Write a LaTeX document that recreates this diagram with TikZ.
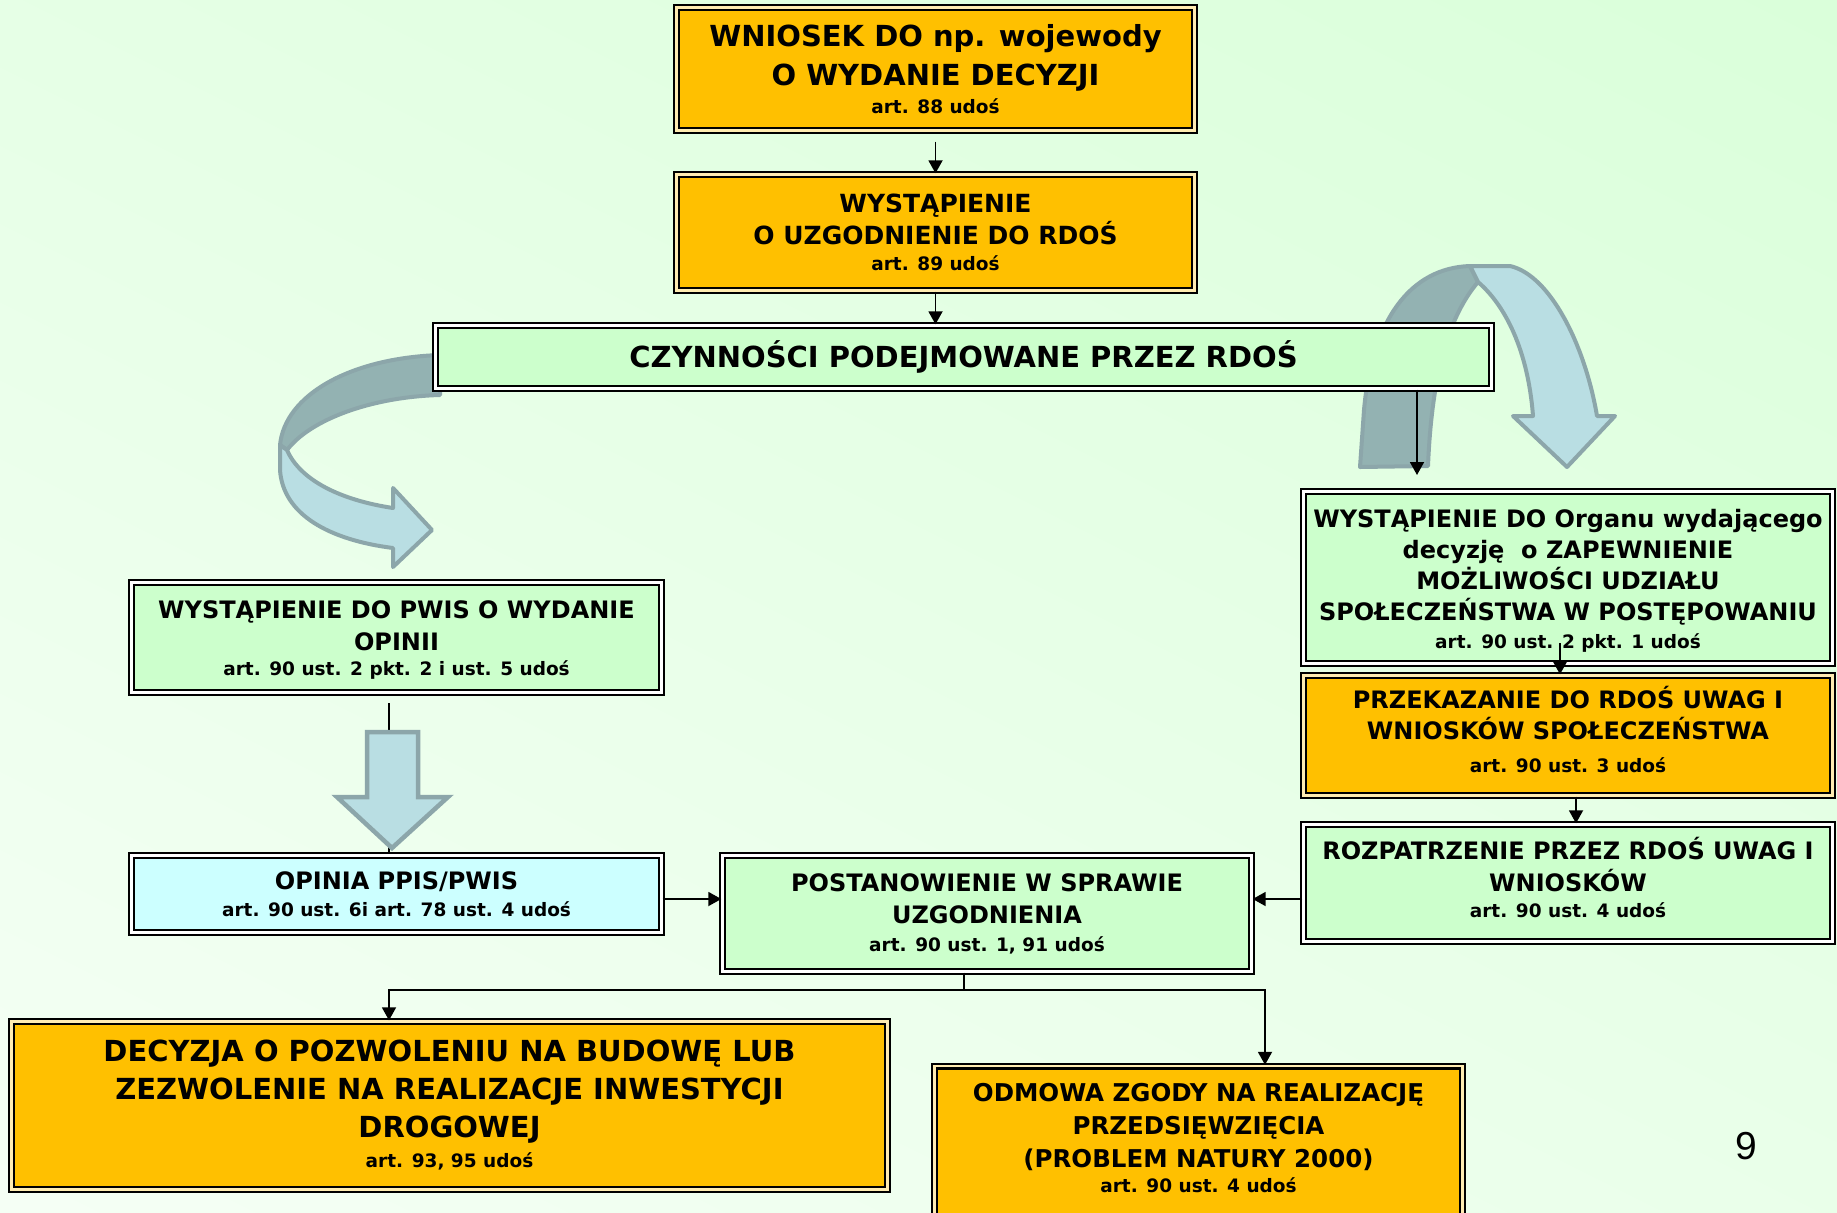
\documentclass[tikz,border=0pt]{standalone}
\usepackage{fontspec}
\setmainfont{DejaVu Sans}
\newfontfamily\numfont{Liberation Sans}
\usetikzlibrary{arrows.meta,calc}

\definecolor{orangebox}{RGB}{255,192,0}
\definecolor{greenbox}{RGB}{204,255,204}
\definecolor{cyanbox}{RGB}{204,255,255}
\definecolor{bggreen}{RGB}{205,255,205}
\definecolor{arrlight}{RGB}{185,222,227}
\definecolor{arrdark}{RGB}{147,178,178}
\definecolor{arredge}{RGB}{140,166,170}

\tikzset{
  box/.style={draw=black, line width=2.4pt, double distance=2.2pt, align=center, inner sep=0pt},
  obox/.style={box, fill=orangebox, double=orangebox!30!white},
  gbox/.style={box, fill=greenbox, double=white},
  cbox/.style={box, fill=cyanbox, double=white},
  conn/.style={draw=black, line width=1.8pt, -{Triangle[width=14pt,length=13pt]}},
  plainline/.style={draw=black, line width=1.8pt},
  ribbonlight/.style={fill=arrlight, draw=arredge, line width=4pt, line join=round},
  ribbondark/.style={fill=arrdark, draw=arredge, line width=4pt, line join=round},
  blockarrow/.style={fill=arrlight, draw=arredge, line width=4.5pt, line join=miter},
}
\newcommand{\artline}[1]{{\fontsize{18.5}{20}\selectfont #1}}

\begin{document}
\begin{tikzpicture}[x=1pt,y=-1pt]
\useasboundingbox (0,0) rectangle (1837,1213);
\clip (0,0) rectangle (1837,1213);
% background: linear gradient, white at lower left to green at upper right
\begin{scope}[transform canvas={rotate=-26.565}]
  \shade[bottom color=white, top color=bggreen] (-300,1775) rectangle (2500,-1725);
\end{scope}

% curved ribbon arrows
\path[ribbondark] (440,355) .. controls (350,358) and (285,395) .. (280,445)
  -- (287,450) .. controls (310,420) and (370,397) .. (440,395) -- cycle;
\path[ribbonlight] (280,445) -- (280,470) .. controls (283,515) and (330,540) .. (393,548)
  -- (393,567) -- (432,530) -- (393,488) -- (393,508)
  .. controls (340,500) and (300,480) .. (287,450) -- cycle;

\path[ribbondark] (1360,467) -- (1364,410) .. controls (1372,320) and (1410,268) .. (1470,266)
  -- (1478,282) .. controls (1450,315) and (1432,370) .. (1428,466) -- cycle;
\path[ribbonlight] (1470,266) -- (1510,266) .. controls (1550,275) and (1585,345) .. (1597,416)
  -- (1615,416) -- (1567,467) -- (1513,416) -- (1533,416)
  .. controls (1528,350) and (1505,305) .. (1478,282) -- cycle;

% boxes
\node[obox, minimum width=518pt, minimum height=123pt, font=\bfseries\fontsize{29}{39}\selectfont]
  (b1) at (935.5,69) {WNIOSEK DO np. wojewody\\O WYDANIE DECYZJI\\[-11pt]\artline{art. 88 udoś}};
\node[obox, minimum width=518pt, minimum height=116pt, font=\bfseries\fontsize{25}{32}\selectfont]
  (b2) at (935.5,232.5) {WYSTĄPIENIE\\O UZGODNIENIE DO RDOŚ\\[-6pt]\artline{art. 89 udoś}};
\node[gbox, minimum width=1056pt, minimum height=63pt, font=\bfseries\fontsize{29}{39}\selectfont]
  (czyn) at (963.5,357) {CZYNNOŚCI PODEJMOWANE PRZEZ RDOŚ};
\node[gbox, minimum width=530pt, minimum height=110pt, font=\bfseries\fontsize{24}{32}\selectfont]
  (pwis) at (396.5,637.5) {\rule{0pt}{23.5pt}WYSTĄPIENIE DO PWIS O WYDANIE\\OPINII\\[-7pt]\artline{art. 90 ust. 2 pkt. 2 i ust. 5 udoś}};
\node[cbox, minimum width=530pt, minimum height=77pt, font=\bfseries\fontsize{24}{32}\selectfont]
  (opinia) at (396.5,894) {OPINIA PPIS/PWIS\\[-5pt]\artline{art. 90 ust. 6i art. 78 ust. 4 udoś}};
\node[gbox, minimum width=529pt, minimum height=172pt, font=\bfseries\fontsize{24}{31}\selectfont]
  (organ) at (1568,577.5) {\rule{0pt}{24pt}WYSTĄPIENIE DO Organu wydającego\\decyzję\ \ o ZAPEWNIENIE\\MOŻLIWOŚCI UDZIAŁU\\SPOŁECZEŃSTWA W POSTĘPOWANIU\\[-3pt]\artline{art. 90 ust. 2 pkt. 1 udoś}};
\node[obox, minimum width=529pt, minimum height=120pt, font=\bfseries\fontsize{24}{31}\selectfont]
  (przek) at (1568,735.5) {PRZEKAZANIE DO RDOŚ UWAG I\\WNIOSKÓW SPOŁECZEŃSTWA\\[2pt]\artline{art. 90 ust. 3 udoś\rule[-12pt]{0pt}{12pt}}};
\node[gbox, minimum width=529pt, minimum height=117pt, font=\bfseries\fontsize{24}{32}\selectfont]
  (rozp) at (1568,883) {ROZPATRZENIE PRZEZ RDOŚ UWAG I\\WNIOSKÓW\\[-6pt]\artline{art. 90 ust. 4 udoś\rule[-11pt]{0pt}{11pt}}};
\node[gbox, minimum width=529pt, minimum height=116pt, font=\bfseries\fontsize{24}{32}\selectfont]
  (post) at (987,913.5) {POSTANOWIENIE W SPRAWIE\\UZGODNIENIA\\[-4pt]\artline{art. 90 ust. 1, 91 udoś}};
\node[obox, minimum width=876pt, minimum height=168pt, font=\bfseries\fontsize{29}{38}\selectfont]
  (decyzja) at (449.5,1105.5) {DECYZJA O POZWOLENIU NA BUDOWĘ LUB\\ZEZWOLENIE NA REALIZACJE INWESTYCJI\\DROGOWEJ\\[-8pt]\artline{art. 93, 95 udoś}};
\node[obox, minimum width=528pt, minimum height=152pt, font=\bfseries\fontsize{24.5}{33}\selectfont]
  (odmowa) at (1198.5,1142) {ODMOWA ZGODY NA REALIZACJĘ\\PRZEDSIĘWZIĘCIA\\(PROBLEM NATURY 2000)\\[-8pt]\artline{art. 90 ust. 4 udoś\rule[-9pt]{0pt}{9pt}}};

\node[font=\numfont\fontsize{39}{39}\selectfont] (pg) at (1746,1146) {9};

% connector under block arrow
\coordinate (lx) at (389,703);
\draw[plainline] (lx) -- (lx |- opinia.north);
\path[blockarrow] (367,732) -- (418,732) -- (418,797) -- (448,797) -- (392,848) -- (337,797) -- (367,797) -- cycle;

% connectors
\draw[conn] ([yshift=-10pt]b1.south) -- (b2.north);
\draw[conn] (b2.south) -- (b2.south |- czyn.north);
\coordinate (orgtop) at (1417,475);
\draw[conn] (czyn.south -| orgtop) -- (orgtop);
\coordinate (c4) at (1560,643);
\draw[conn] (c4) -- (c4 |- przek.north);
\coordinate (c5) at (1576,0);
\draw[conn] (przek.south -| c5) -- (rozp.north -| c5);
\coordinate (yr) at (0,899);
\draw[conn] (rozp.west |- yr) -- (post.east |- yr);
\draw[conn] (opinia.east |- yr) -- (post.west |- yr);
\coordinate (jn) at (964,990);
\coordinate (dx) at (389,990);
\coordinate (ox) at (1265,990);
\draw[conn] (post.south -| jn) -- (jn) -- (dx) -- (dx |- decyzja.north);
\draw[conn] (jn) -- (ox) -- (ox |- odmowa.north);
\end{tikzpicture}
\end{document}
